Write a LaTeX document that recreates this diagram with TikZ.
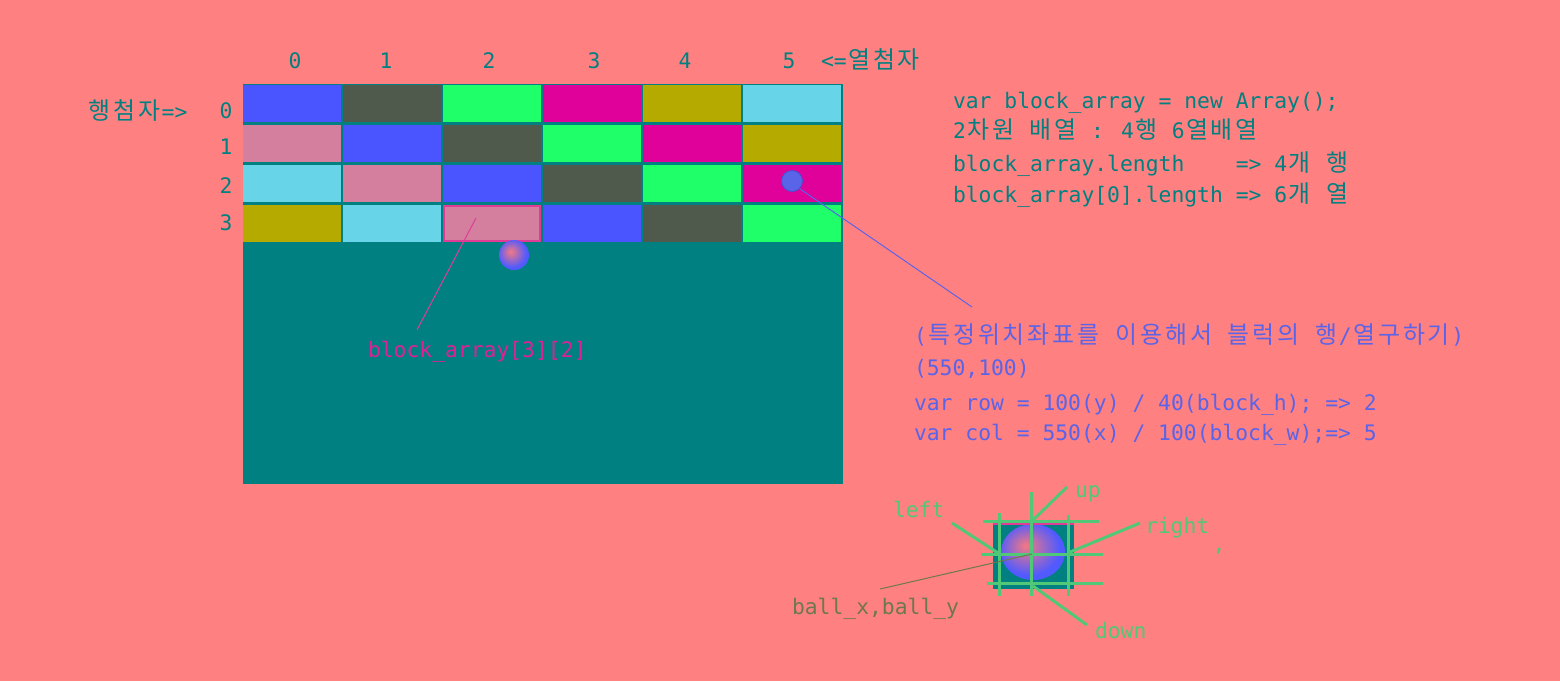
\documentclass[tikz,border=0pt]{standalone}
\usepackage{fontspec}
\newfontfamily\monofnt{DejaVu Sans Mono}
\newfontfamily\krfnt[Scale=1.12]{Noto Sans CJK KR}
\newcommand\HK[1]{\HKloop#1\relax}
\def\HKloop#1{\ifx\relax#1\else\hbox to 24.9pt{\hss\krfnt#1\hss}\expandafter\HKloop\fi}
\definecolor{bg}{RGB}{255,128,128}
\definecolor{tealc}{RGB}{0,128,128}
\definecolor{col0}{RGB}{75,85,255}
\definecolor{col1}{RGB}{79,90,76}
\definecolor{col2}{RGB}{30,255,106}
\definecolor{col3}{RGB}{224,0,154}
\definecolor{col4}{RGB}{181,170,0}
\definecolor{col5}{RGB}{104,212,232}
\definecolor{col6}{RGB}{212,127,158}
\definecolor{bord}{RGB}{224,60,150}
\definecolor{bluet}{RGB}{90,100,232}
\definecolor{dotb}{RGB}{70,80,210}
\definecolor{magt}{RGB}{224,32,150}
\definecolor{greenl}{RGB}{80,200,120}
\definecolor{olivet}{RGB}{110,120,80}
\definecolor{ballin}{RGB}{245,120,130}
\definecolor{ballout}{RGB}{80,90,255}
\pgfdeclareradialshading{ballsh}{\pgfpoint{-6bp}{6bp}}{color(0bp)=(ballin); color(24bp)=(ballout); color(50bp)=(ballout)}
\tikzset{
  txt/.style={font=\monofnt\fontsize{21.35}{26}\selectfont, inner sep=0pt, outer sep=0pt, anchor=base west},
  ctxt/.style={txt, anchor=base},
  blk/.style={anchor=north west, minimum width=98pt, minimum height=37pt, inner sep=0pt, outer sep=0pt},
  gline/.style={draw=greenl, line width=3pt},
}
\begin{document}
\begin{tikzpicture}[x=1pt,y=-1pt]
\fill[bg] (0,0) rectangle (1560,681);
\useasboundingbox (0,0) rectangle (1560,681);
% game area
\fill[tealc] (243,84) rectangle (843,484);
\foreach \r in {0,...,3}{\foreach \c in {0,...,5}{
  \pgfmathtruncatemacro\k{mod(\c-\r+7,7)}
  \node[blk, fill=col\k] (b\r\c) at ({243+100*\c},{85+40*\r}) {};
}}
\draw[bord, line width=2.4pt] ([shift={(1.2pt,-1.2pt)}]b32.north west) rectangle ([shift={(-1.2pt,1.2pt)}]b32.south east);
\node[circle, minimum size=30pt, inner sep=0pt, shading=ballsh] (ball) at (514,255) {};
\node[circle, minimum size=21pt, inner sep=0pt, fill=bluet, draw=dotb, line width=0.8pt] (dot) at (792,181) {};
% column and row labels
\foreach \c/\x in {0/295,1/386,2/489,3/594,4/685,5/789}{
  \node[ctxt, text=tealc] (cl\c) at (\x,68) {\c};
}
\node[txt, text=tealc] (colidx) at (821,68) {<=\HK{열첨자}};
\foreach \r/\y in {0/118,1/154,2/193,3/230}{
  \node[ctxt, text=tealc] (rl\r) at (226,\y) {\r};
}
\node[txt, text=tealc] (rowidx) at (87,119) {\HK{행첨자}=>};
% right-hand teal text
\node[txt, text=tealc] (t1) at (953,108) {var block\_array = new Array();};
\node[txt, text=tealc] (t2) at (953,138) {2\HK{차원} \HK{배열} : 4\HK{행} 6\HK{열배열}};
\node[txt, text=tealc] (t3) at (953,171) {block\_array.length\ \ \ \ => 4\HK{개} \HK{행}};
\node[txt, text=tealc] (t4) at (953,202) {block\_array[0].length => 6\HK{개} \HK{열}};
% blue text
\node[txt, text=bluet] (u1) at (914,343) {(\HK{특정위치좌표를} \HK{이용해서} \HK{블럭의} \HK{행}/\HK{열구하기})};
\node[txt, text=bluet] (u2) at (914,375) {(550,100)};
\node[txt, text=bluet] (u3) at (914,410) {var row = 100(y) / 40(block\_h); => 2};
\node[txt, text=bluet] (u4) at (914,440) {var col = 550(x) / 100(block\_w);=> 5};
% magenta label
\node[txt, text=magt] (lbl) at (368,357) {block\_array[3][2]};
\coordinate (p1) at (476,218);
\coordinate (p1e) at (417,330);
\draw[bord, line width=1pt] (p1) -- (p1e);
\coordinate (q1) at (972,307);
\draw[bluet, line width=1pt] (dot.-45) -- (q1);
% ball detail
\fill[tealc] (993,524) rectangle (1074,589);
\shade[shading=ballsh] (1033,552) ellipse (32 and 28);
\draw[bord, line width=2pt] (993,524) -- (1074,524);
\draw[gline] (983,521.7) -- (1099,521.7);
\draw[gline] (981,554) -- (1103,554);
\draw[gline] (987,583) -- (1103,583);
\draw[gline] (999,513) -- (999,596);
\draw[gline] (1031,492) -- (1031,596);
\draw[gline] (1068,515) -- (1068,596);
\node[txt, text=greenl] (lup) at (1075,497) {up};
\node[txt, text=greenl] (lleft) at (893,517) {left};
\node[txt, text=greenl] (lright) at (1145,533) {right};
\node[ctxt, text=greenl] (lcomma) at (1219,551) {,};
\node[txt, text=greenl] (ldown) at (1095,638) {down};
\node[txt, text=olivet] (lbxy) at (792,614) {ball\_x,ball\_y};
\coordinate (up0) at (1033,520);   \coordinate (up1) at (1067,487);
\coordinate (le0) at (998,553);    \coordinate (le1) at (952,523);
\coordinate (ri0) at (1070,552);   \coordinate (ri1) at (1140,523);
\coordinate (do0) at (1033,586);   \coordinate (do1) at (1087,625);
\coordinate (bx0) at (1032,554);   \coordinate (bx1) at (880,589);
\draw[gline] (up0) -- (up1);
\draw[gline] (le0) -- (le1);
\draw[gline] (ri0) -- (ri1);
\draw[gline] (do0) -- (do1);
\draw[olivet, line width=1pt] (bx0) -- (bx1);
\end{tikzpicture}
\end{document}
